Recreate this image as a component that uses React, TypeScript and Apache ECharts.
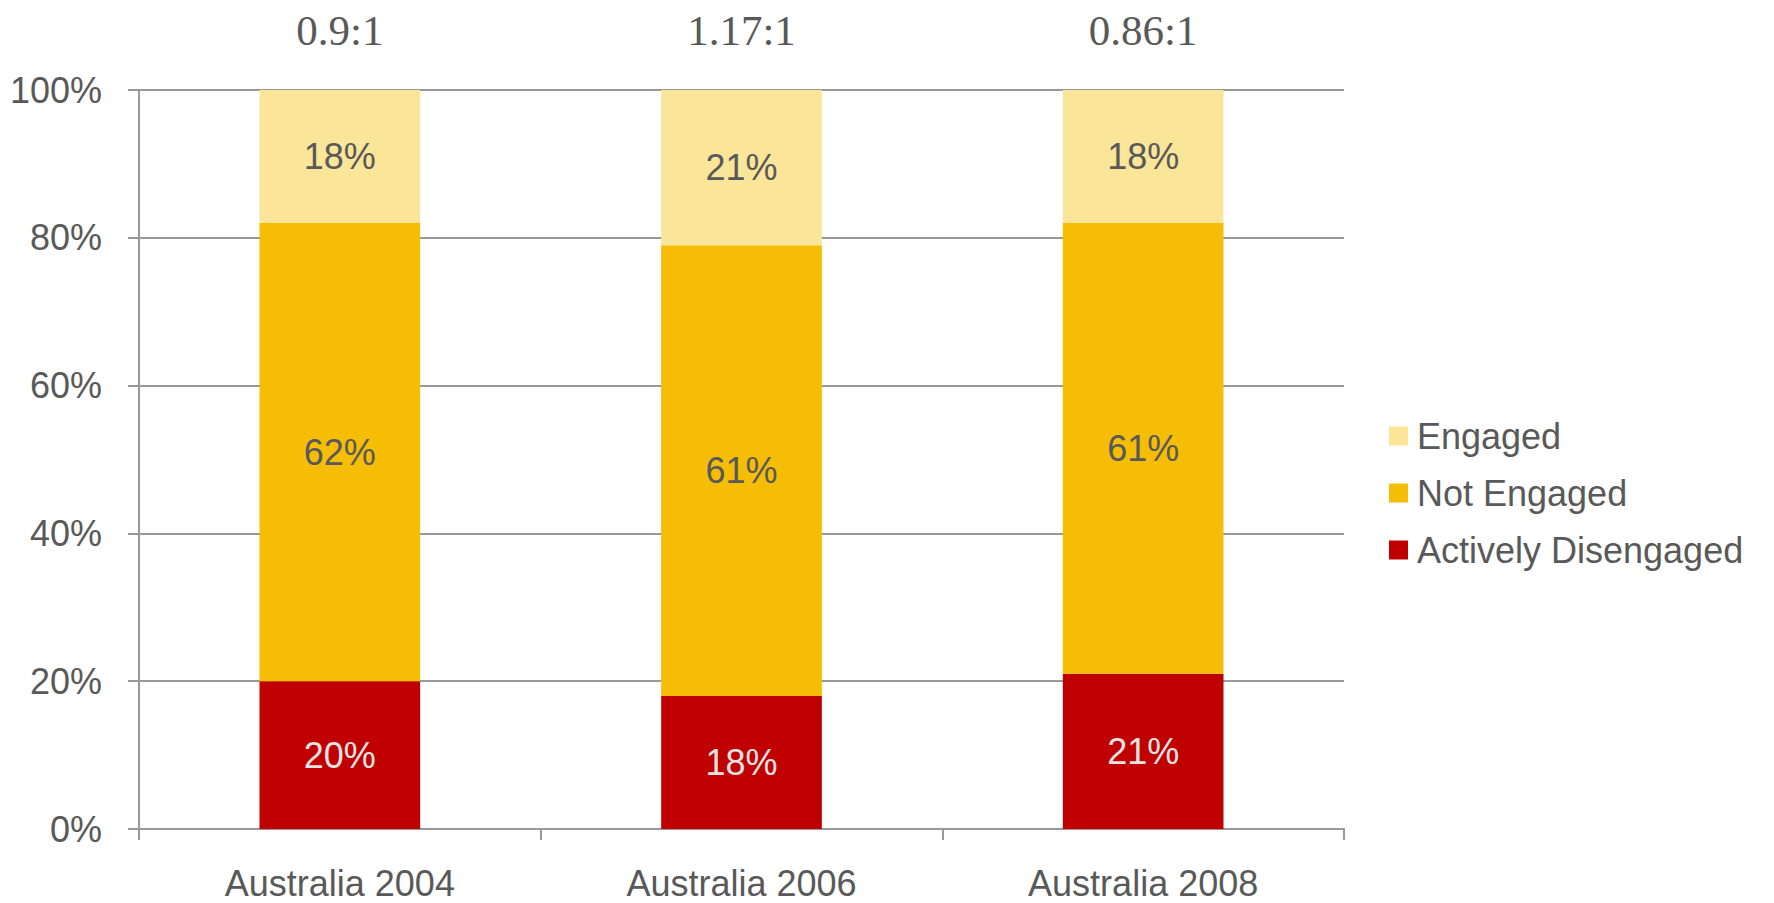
import React, { useEffect, useRef } from "react";
import * as echarts from "echarts";

const categories = ["Australia 2004", "Australia 2006", "Australia 2008"];
const ratioLabels = ["0.9:1", "1.17:1", "0.86:1"];
const activelyDisengaged = [20, 18, 21];
const notEngaged = [62, 61, 61];
const engaged = [18, 21, 18];
const yTicks = [0, 20, 40, 60, 80, 100];

const TEXT = "#595959";
const GRID = "#999999";
const SANS = "'Liberation Sans', Arial, sans-serif";
const SERIF = "'Liberation Serif', 'Times New Roman', serif";

export default function App() {
  const ref = useRef<HTMLDivElement>(null);
  useEffect(() => {
    if (!ref.current) return;
    const chart = echarts.init(ref.current, null, { renderer: "svg" });
    const label = (color: string) => ({
      show: true,
      position: "inside" as const,
      formatter: "{c}%",
      color,
      fontFamily: SANS,
      fontSize: 36,
    });
    chart.setOption({
      animation: false,
      backgroundColor: "#ffffff",
      grid: { left: 139, right: 430, top: 90, bottom: 74, containLabel: false },
      legend: {
        orient: "vertical",
        left: 1384,
        top: 413,
        itemWidth: 19,
        itemHeight: 19,
        itemGap: 21,
        icon: "rect",
        data: ["Engaged", "Not Engaged", "Actively Disengaged"],
        textStyle: { color: TEXT, fontFamily: SANS, fontSize: 36, padding: [0, 0, 0, 4] },
      },
      xAxis: [
        {
          type: "category",
          data: categories,
          axisLine: { show: true, lineStyle: { color: GRID, width: 2 } },
          axisTick: { show: true, length: 11, lineStyle: { color: GRID, width: 2 } },
          axisLabel: { color: TEXT, fontFamily: SANS, fontSize: 36, margin: 36 },
        },
        {
          type: "category",
          position: "top",
          data: ratioLabels,
          axisLine: { show: false },
          axisTick: { show: false },
          axisLabel: { color: TEXT, fontFamily: SERIF, fontSize: 43, margin: 38 },
        },
      ],
      yAxis: {
        type: "value",
        min: yTicks[0],
        max: yTicks[yTicks.length - 1],
        interval: 20,
        axisLine: { show: true, lineStyle: { color: GRID, width: 2 } },
        axisTick: { show: true, length: 11, lineStyle: { color: GRID, width: 2 } },
        axisLabel: { color: TEXT, fontFamily: SANS, fontSize: 36, margin: 37, formatter: "{value}%" },
        splitLine: { show: true, lineStyle: { color: GRID, width: 2 } },
      },
      series: [
        {
          name: "Actively Disengaged",
          type: "bar",
          stack: "total",
          barWidth: "40%",
          data: activelyDisengaged,
          itemStyle: { color: "#C00000" },
          label: label("#E3E3E3"),
        },
        {
          name: "Not Engaged",
          type: "bar",
          stack: "total",
          barWidth: "40%",
          data: notEngaged,
          itemStyle: { color: "#F5BE05" },
          label: label(TEXT),
        },
        {
          name: "Engaged",
          type: "bar",
          stack: "total",
          barWidth: "40%",
          data: engaged,
          itemStyle: { color: "#FBE598" },
          label: label(TEXT),
        },
      ],
    });
    return () => chart.dispose();
  }, []);
  return (
    <div
      ref={ref}
      style={{ position: "absolute", left: 0, top: 0, width: 1774, height: 903 }}
    />
  );
}
